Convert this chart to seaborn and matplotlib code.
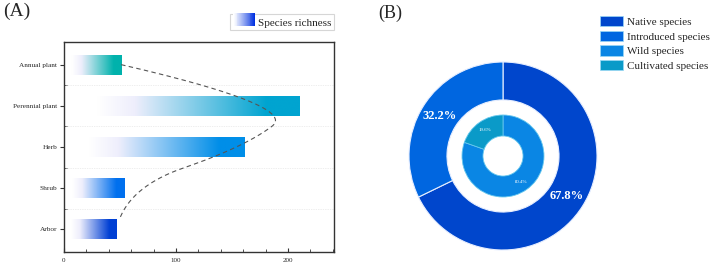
import numpy as np
import pandas as pd
import matplotlib
matplotlib.use("Agg")
import matplotlib.pyplot as plt
import matplotlib.colors as mcolors
from matplotlib.patches import Rectangle
from matplotlib.legend_handler import HandlerBase
import seaborn as sns

# ---------------- data ----------------
categories = ["Annual plant", "Perennial plant", "Herb", "Shrub", "Arbor"]
richness = [51, 210, 161, 54, 47]
bar_colors = ["#00b2ac", "#00a4d0", "#008ee8", "#0070ee", "#0040d4"]

origin_labels = ["Native species", "Introduced species"]
origin_pct = [67.8, 32.2]
origin_colors = ["#0046cc", "#0066e0"]

status_labels = ["Wild species", "Cultivated species"]
status_pct = [80.4, 19.6]
status_colors = ["#0a86e4", "#0a9ac8"]

x_ticks = [0, 100, 200]

# ---------------- style ----------------
sns.set_style("ticks")
plt.rcParams["font.family"] = ["Liberation Serif", "DejaVu Serif"]

fig = plt.figure(figsize=(7.11, 2.69), dpi=100)

# ---------------- panel A ----------------
axA = fig.add_axes([64 / 711, 1 - 252 / 269, 270 / 711, 210 / 269])
df = pd.DataFrame({"category": categories, "richness": richness})
sns.barplot(data=df, x="richness", y="category", orient="h", width=0.48,
            color="white", ax=axA, zorder=2)


def grad_img(color, n=256):
    cmap = mcolors.LinearSegmentedColormap.from_list(
        "g", [(0.0, "#ffffff"), (0.14, "#ffffff"), (0.3, "#eeeefc"),
              (0.86, color), (1.0, color)])
    t = np.linspace(0, 1, n)
    return cmap(t)[None, :, :3]


for p, col in zip(axA.patches, bar_colors):
    x0, y0, w, h = p.get_x(), p.get_y(), p.get_width(), p.get_height()
    axA.imshow(grad_img(col), extent=[x0, x0 + w, y0 + h, y0], aspect="auto",
               interpolation="bilinear", zorder=2.5)
    p.set_facecolor("none")
    p.set_edgecolor("none")
    p.set_zorder(3)

# smooth dashed trend curve (quadratic B-spline through bar ends)
P = np.array([[v, i] for i, v in enumerate(richness)], dtype=float)
segs = []
n = len(P)
for k in range(1, n - 1):
    s = P[0] if k == 1 else (P[k - 1] + P[k]) / 2
    e = P[-1] if k == n - 2 else (P[k] + P[k + 1]) / 2
    t = np.linspace(0, 1, 60)[:, None]
    segs.append((1 - t) ** 2 * s + 2 * t * (1 - t) * P[k] + t ** 2 * e)
curve = np.vstack(segs)
curve = curve[curve[:, 1] <= 3.76]
axA.plot(curve[:, 0], curve[:, 1], ls=(0, (4, 3)), color="#555555", lw=0.8, zorder=4)

axA.set_xlim(0, 241)
axA.set_ylim(4.55, -0.55)
axA.set_xlabel("")
axA.set_ylabel("")
axA.set_xticks(x_ticks)
axA.set_xticklabels([str(v) for v in x_ticks])
axA.set_xticks(np.arange(20, 241, 20), minor=True)
axA.set_yticks(np.arange(0.5, 4, 1), minor=True)
for yb in np.arange(0.5, 4, 1):
    axA.axhline(yb, color="#dddddd", lw=0.5, ls=(0, (1, 1.5)), zorder=1)
axA.tick_params(axis="x", which="major", direction="in", length=3, width=0.8,
                labelsize=5, pad=4, color="#333333")
axA.tick_params(axis="x", which="minor", direction="in", length=2, width=0.6, color="#333333")
axA.tick_params(axis="y", which="major", direction="out", length=3, width=0.8,
                labelsize=5.2, pad=2, color="#333333")
axA.tick_params(axis="y", which="minor", direction="in", length=2, width=0.6, color="#333333")
for s in axA.spines.values():
    s.set_visible(True)
    s.set_linewidth(1.0)
    s.set_color("#333333")


class GradHandler(HandlerBase):
    def create_artists(self, legend, orig_handle, xd, yd, width, height, fontsize, trans):
        arts = []
        m = 24
        c = np.array(mcolors.to_rgb("#0030e0"))
        for i in range(m):
            a = (i / (m - 1)) ** 1.2
            col = (1 - a) * np.ones(3) + a * c
            r = Rectangle((xd + i * width / m, yd - 1), width / m + 0.3, height + 2,
                          facecolor=col, edgecolor="none", transform=trans)
            arts.append(r)
        return arts


grad_handle = Rectangle((0, 0), 1, 1)
legA = fig.legend([grad_handle], ["Species richness"],
                  handler_map={Rectangle: GradHandler()},
                  loc="upper right", bbox_to_anchor=(334 / 711, 1 - 14 / 269),
                  fontsize=8, frameon=True, fancybox=False, handlelength=2.0,
                  handleheight=1.0, handletextpad=0.25, borderpad=0.25,
                  borderaxespad=0)
legA.get_frame().set_edgecolor("#cccccc")
legA.get_frame().set_linewidth(0.8)

fig.text(3 / 711, 1 - 3 / 269, "(A)", fontsize=14, va="top", ha="left")

# ---------------- panel B ----------------
R = 94
cx, cy = 503, 156
axB = fig.add_axes([(cx - R) / 711, 1 - (cy + R) / 269, 2 * R / 711, 2 * R / 269])
wedges_o, _, at_o = axB.pie(origin_pct, colors=origin_colors, startangle=90,
                            counterclock=False, radius=1.0,
                            autopct=lambda v: f"{v:.1f}%", pctdistance=0.8,
                            wedgeprops=dict(width=0.404, edgecolor="#e6eeff", linewidth=0.8))
for t in at_o:
    t.set_color("white")
    t.set_fontsize(9)
    t.set_fontweight("bold")
wedges_i, _, at_i = axB.pie(status_pct, colors=status_colors, startangle=90,
                            counterclock=False, radius=0.436,
                            autopct=lambda v: f"{v:.1f}%", pctdistance=0.78,
                            wedgeprops=dict(width=0.223, edgecolor="#66c8ee", linewidth=0.6))
for t in at_i:
    t.set_color("white")
    t.set_fontsize(3.5)
axB.set_xlim(-1, 1)
axB.set_ylim(-1, 1)
axB.set_aspect("auto")
axB.axis("off")

legB = fig.legend(list(wedges_o) + list(wedges_i), origin_labels + status_labels,
                  loc="upper left", bbox_to_anchor=(600 / 711, 1 - 16 / 269),
                  fontsize=8, frameon=False, handlelength=2.1, handleheight=1.05,
                  handletextpad=0.35, labelspacing=0.34, borderpad=0, borderaxespad=0)
for h in legB.legend_handles:
    h.set_edgecolor("#9ad8f5")
    h.set_linewidth(0.5)

fig.text(378 / 711, 1 - 5 / 269, "(B)", fontsize=13, va="top", ha="left")

fig.savefig("out.png", dpi=100)
